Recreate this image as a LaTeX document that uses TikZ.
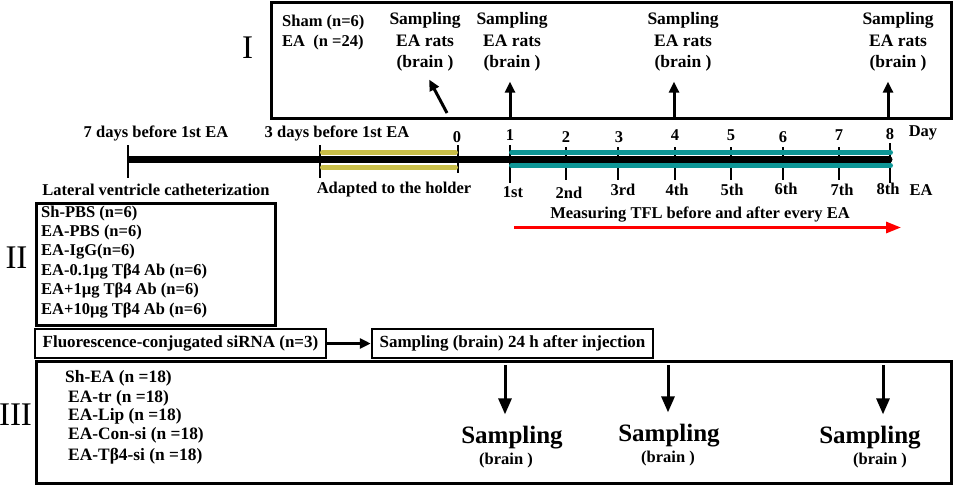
\documentclass[tikz,border=0pt]{standalone}
\usepackage{fontspec}
\setmainfont{Liberation Serif}
\usetikzlibrary{arrows.meta, positioning}

\definecolor{holder}{RGB}{201,190,72}
\definecolor{eateal}{RGB}{14,150,150}

\begin{document}
\begin{tikzpicture}[
    x=1pt, y=-1pt,
    txt/.style={font=\fontsize{16.5}{19}\selectfont\bfseries, inner sep=0pt},
    grouptxt/.style={font=\fontsize{17.4}{19}\selectfont\bfseries, inner sep=0pt, anchor=west},
    sampling/.style={align=center, font=\fontsize{17.5}{21.5}\selectfont\bfseries, inner sep=0pt},
    bigsampling/.style={font=\fontsize{25}{28}\selectfont\bfseries, inner sep=0pt},
    numeral/.style={font=\fontsize{33}{36}\selectfont, inner sep=0pt},
    frame/.style={draw, line width=3pt},
    smallbox/.style={draw, line width=2.5pt, inner sep=0pt, minimum height=29pt, font=\fontsize{17}{19}\selectfont\bfseries},
    tick/.style={line width=2.5pt},
    uparrow/.style={-{Triangle[length=11pt, width=10pt]}, line width=3pt},
    downarrow/.style={-{Triangle[length=16pt, width=13pt]}, line width=3pt},
    redarrow/.style={-{Triangle[length=15pt, width=11pt]}, line width=3pt, red}
]
\useasboundingbox (0,0) rectangle (957,487);

% Roman numerals for the three experiments
\node[numeral] (numI) at (247.5,48) {I};
\node[numeral] (numII) at (16.5,258) {II};
\node[numeral] (numIII) at (15.5,414.5) {III};

% Experiment I
\draw[frame] (271,3) rectangle (951,118);
\node[txt, anchor=west] (sham) at (282,23) {Sham (n=6)};
\node[txt, anchor=west] (eaI) at (282,43) {EA\ \ (n =24)};
\node[sampling] (sI1) at (425,42) {Sampling\\EA rats\\(brain )};
\node[sampling] (sI2) at (512,42) {Sampling\\EA rats\\(brain )};
\node[sampling] (sI3) at (683,42) {Sampling\\EA rats\\(brain )};
\node[sampling] (sI4) at (898,42) {Sampling\\EA rats\\(brain )};
\coordinate (tI1) at (447,113);
\coordinate (tI2) at (510,118);
\coordinate (tI3) at (674,118);
\coordinate (tI4) at (888,118);
\draw[uparrow, shorten >=9pt] (tI1) -- (sI1.south);
\draw[uparrow, shorten >=10pt] (tI2) -- (tI2 |- sI2.south);
\draw[uparrow, shorten >=10pt] (tI3) -- (tI3 |- sI3.south);
\draw[uparrow, shorten >=10pt] (tI4) -- (tI4 |- sI4.south);

% Time line
\draw[tick] (128,145) -- (128,178);
\draw[tick] (320,145) -- (320,178);
\draw[tick] (458,145) -- (458,173);
\foreach \xx/\top/\bot in {510/145/183, 566/147/180, 618/147/180, 675/147/180, 731/147/180, 783/147/180, 839/147/180, 890/143/183}
    \draw[tick] (\xx,\top) -- (\xx,\bot);
\draw[line width=7pt] (128,159.5) -- (889,159.5);
\fill (889,159.5) circle (3.5pt);
\draw[holder, line width=5pt, line cap=round] (322.5,152.5) -- (455.5,152.5);
\draw[holder, line width=5pt, line cap=round] (322.5,167.5) -- (455.5,167.5);
\draw[eateal, line width=5pt, line cap=round] (511.5,152.5) -- (890.5,152.5);
\draw[eateal, line width=5pt, line cap=round] (511.5,165.5) -- (890.5,165.5);

% labels above and below the time line
\node[txt] (before7) at (156,133) {7 days before 1st EA};
\node[txt] (before3) at (337,133) {3 days before 1st EA};
\node[txt] (day0) at (457,137) {0};
\foreach \d/\xx/\yy in {1/510/135, 2/566/137, 3/619/137, 4/675/135, 5/731/135, 6/783/137, 7/839/135, 8/890/134}
    \node[txt] (day\d) at (\xx,\yy) {\d};
\node[txt] (daylbl) at (923,133) {Day};
\node[txt] (cath) at (156,190) {Lateral ventricle catheterization};
\node[txt] (adapt) at (394,190) {Adapted to the holder};
\foreach \n/\xx/\yy in {1st/513/192, 2nd/569/193, 3rd/623/190, 4th/677/190, 5th/732/190, 6th/786/189, 7th/842/190, 8th/888/189}
    \node[txt] (ea\n) at (\xx,\yy) {\n};
\node[txt] (ealbl) at (921,190) {EA};

% TFL measurement
\node[txt] (tfl) at (700,215) {Measuring TFL before and after every EA};
\coordinate (tflstart) at (514,227.5);
\coordinate (tflend) at (901,227.5);
\draw[redarrow] (tflstart) -- (tflend);

% Experiment II
\draw[frame] (36,203) rectangle (275,325);
\node[txt, anchor=west] (g1) at (41,214) {Sh-PBS (n=6)};
\node[txt, anchor=west] (g2) at (41,233) {EA-PBS (n=6)};
\node[txt, anchor=west] (g3) at (41,252) {EA-IgG(n=6)};
\node[txt, anchor=west] (g4) at (41,272) {EA-0.1µg Tβ4 Ab (n=6)};
\node[txt, anchor=west] (g5) at (41,291) {EA+1µg Tβ4 Ab (n=6)};
\node[txt, anchor=west] (g6) at (41,311) {EA+10µg Tβ4 Ab (n=6)};

% siRNA uptake
\node[smallbox, minimum width=291pt] (fluo) at (180.5,343.5) {Fluorescence-conjugated siRNA (n=3)};
\node[smallbox, minimum width=281pt] (samp24) at (512.5,343.5) {Sampling (brain) 24 h after injection};
\draw[uparrow] (fluo) -- (samp24);

% Experiment III
\draw[frame] (36,361) rectangle (951,483);
\node[grouptxt] (h1) at (65,378) {Sh-EA (n =18)};
\node[grouptxt] (h2) at (68,398) {EA-tr (n =18)};
\node[grouptxt] (h3) at (68,416) {EA-Lip (n =18)};
\node[grouptxt] (h4) at (68,435) {EA-Con-si (n =18)};
\node[grouptxt] (h5) at (68,456) {EA-Tβ4-si (n =18)};
\node[bigsampling] (sIII1) at (512,438) {Sampling};
\node[txt] (bIII1) at (506,461) {(brain )};
\node[bigsampling] (sIII2) at (669,436) {Sampling};
\node[txt] (bIII2) at (668,459) {(brain )};
\node[bigsampling] (sIII3) at (870,438) {Sampling};
\node[txt] (bIII3) at (880,461) {(brain )};
\coordinate (tIII1) at (505,365);
\coordinate (tIII2) at (668,365);
\coordinate (tIII3) at (883,365);
\draw[downarrow, shorten >=12pt] (tIII1) -- (tIII1 |- sIII1.north);
\draw[downarrow, shorten >=12pt] (tIII2) -- (tIII2 |- sIII2.north);
\draw[downarrow, shorten >=12pt] (tIII3) -- (tIII3 |- sIII3.north);

\end{tikzpicture}
\end{document}
